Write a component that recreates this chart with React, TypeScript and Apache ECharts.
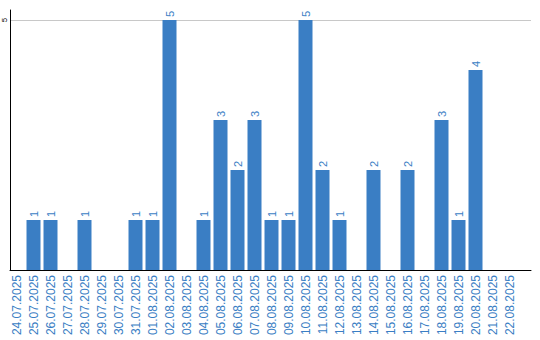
import React, { useEffect, useRef } from "react";
import * as echarts from "echarts";

const categories = [
  "24.07.2025", "25.07.2025", "26.07.2025", "27.07.2025", "28.07.2025",
  "29.07.2025", "30.07.2025", "31.07.2025", "01.08.2025", "02.08.2025",
  "03.08.2025", "04.08.2025", "05.08.2025", "06.08.2025", "07.08.2025",
  "08.08.2025", "09.08.2025", "10.08.2025", "11.08.2025", "12.08.2025",
  "13.08.2025", "14.08.2025", "15.08.2025", "16.08.2025", "17.08.2025",
  "18.08.2025", "19.08.2025", "20.08.2025", "21.08.2025", "22.08.2025",
];
const values = [0, 1, 1, 0, 1, 0, 0, 1, 1, 5, 0, 1, 3, 2, 3, 1, 1, 5, 2, 1, 0, 2, 0, 2, 0, 3, 1, 4, 0, 0];
const yMax = 5.2;
const yTickMax = 5;

const BLUE = "#3a7ec4";
const FONT = "Liberation Sans, Arial, sans-serif";

export default function App() {
  const ref = useRef<HTMLDivElement>(null);
  useEffect(() => {
    if (!ref.current) return;
    const chart = echarts.init(ref.current, null, { renderer: "svg" });
    chart.setOption({
      animation: false,
      grid: [
        // tick / gridline grid (0 .. 5)
        { left: 10, top: 20, width: 521, height: 250 },
        // axis line grid (0 .. 5.2)
        { left: 10, top: 10, width: 521, height: 260 },
        // category grid for bars
        { left: 8, top: 10, width: 510, height: 260 },
      ],
      xAxis: [
        { gridIndex: 0, type: "value", min: 0, max: 1, show: false },
        {
          gridIndex: 1,
          type: "value",
          min: 0,
          max: 1,
          axisLine: { show: true, onZero: false, lineStyle: { color: "#000", width: 1 } },
          axisTick: { show: false },
          axisLabel: { show: false },
          splitLine: { show: false },
        },
        {
          gridIndex: 2,
          type: "category",
          data: categories,
          axisLine: { show: false },
          axisTick: { show: false },
          axisLabel: {
            rotate: 90,
            interval: 0,
            margin: 5,
            color: BLUE,
            fontSize: 12,
            fontFamily: FONT,
          },
        },
      ],
      yAxis: [
        {
          gridIndex: 0,
          type: "value",
          min: 0,
          max: yTickMax,
          interval: yTickMax,
          axisLine: { show: false },
          axisTick: { show: false },
          axisLabel: {
            rotate: 90,
            margin: 3,
            color: "#000",
            fontSize: 8,
            fontFamily: FONT,
            formatter: (v: number) => (v === 0 ? "" : String(v)),
          },
          splitLine: { show: true, lineStyle: { color: "#c8c8c8", width: 1 } },
        },
        {
          gridIndex: 1,
          type: "value",
          min: 0,
          max: yMax,
          axisLine: { show: true, lineStyle: { color: "#000", width: 1 } },
          axisTick: { show: false },
          axisLabel: { show: false },
          splitLine: { show: false },
        },
        {
          gridIndex: 2,
          type: "value",
          min: 0,
          max: yMax,
          show: false,
          splitLine: { show: false },
        },
      ],
      series: [
        {
          type: "bar",
          xAxisIndex: 2,
          yAxisIndex: 2,
          data: values,
          barWidth: 14,
          itemStyle: { color: BLUE },
          label: {
            show: true,
            position: "top",
            rotate: 90,
            align: "left",
            verticalAlign: "middle",
            distance: 3,
            color: BLUE,
            fontSize: 11,
            fontFamily: FONT,
            formatter: (p: any) => (p.value ? String(p.value) : ""),
          },
        },
      ],
    });
    return () => chart.dispose();
  }, []);
  return (
    <div
      ref={ref}
      style={{ position: "fixed", left: 0, top: 0, width: 540, height: 340, background: "#fff" }}
    />
  );
}
